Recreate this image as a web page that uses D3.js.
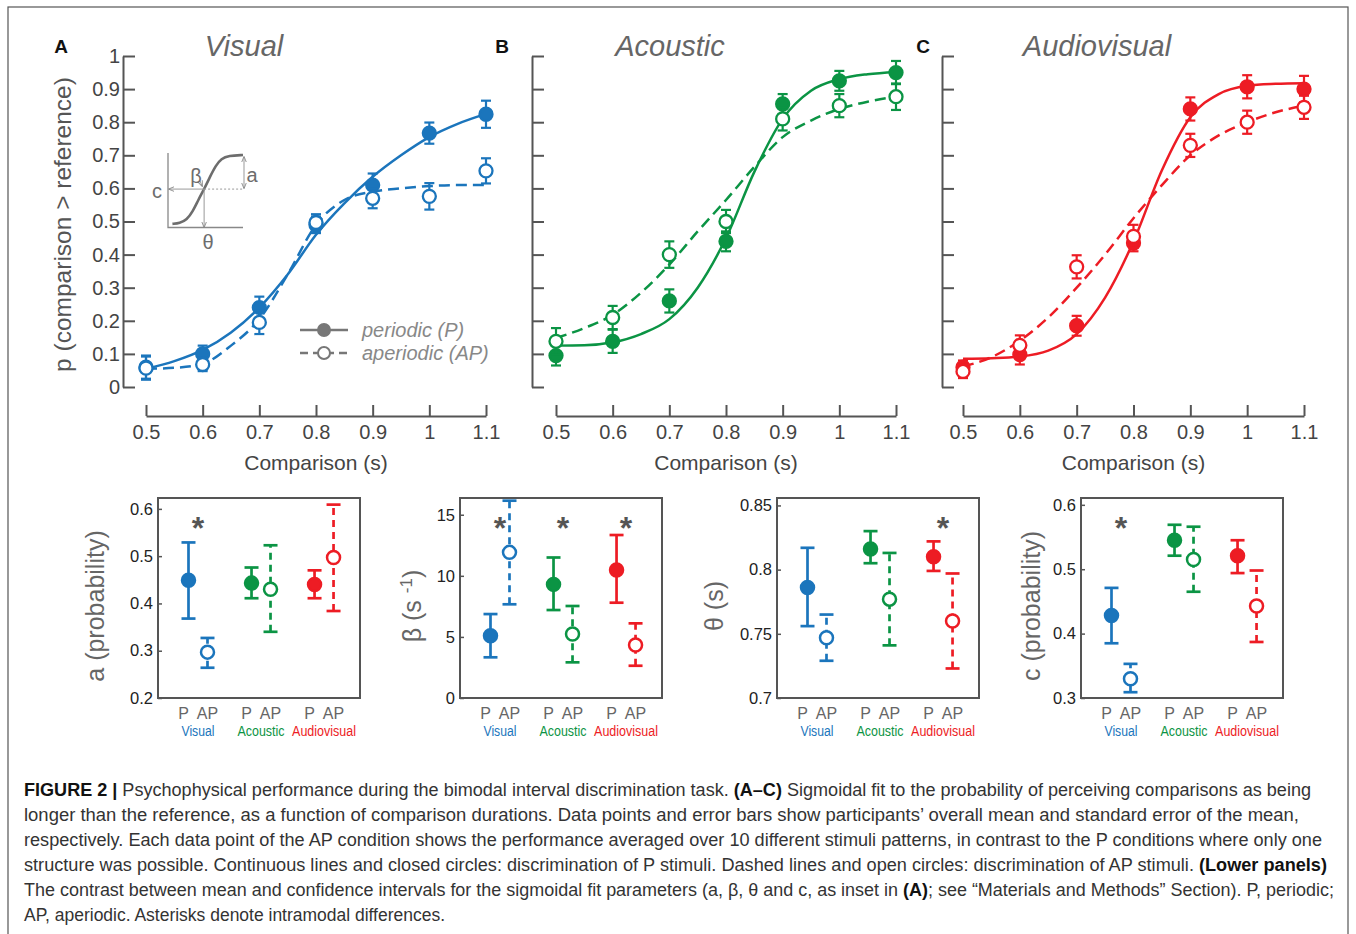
<!DOCTYPE html>
<html>
<head>
<meta charset="utf-8">
<script src="https://cdn.jsdelivr.net/npm/d3@7"></script>
<style>
  body { margin: 0; background: #fff; }
  svg { display: block; }
  text { font-family: "Liberation Sans", Arial, sans-serif; }
</style>
</head>
<body>
<div id="chart"></div>
<script>
// ---------- data: upper panels (psychometric curves) ----------
const comparisonTicks = [0.5, 0.6, 0.7, 0.8, 0.9, 1, 1.1];
const probTicks = [0, 0.1, 0.2, 0.3, 0.4, 0.5, 0.6, 0.7, 0.8, 0.9, 1];
const fitGrid = [0.5, 0.55, 0.6, 0.65, 0.7, 0.75, 0.8, 0.85, 0.9, 0.95, 1, 1.05, 1.1];

const visualP     = [0.06, 0.10, 0.24, 0.49, 0.61, 0.767, 0.824];
const visualPErr  = [0.035, 0.025, 0.033, 0.025, 0.035, 0.032, 0.041];
const visualAP    = [0.057, 0.068, 0.195, 0.497, 0.57, 0.576, 0.653];
const visualAPErr = [0.035, 0.02, 0.035, 0.025, 0.03, 0.04, 0.038];
const visualPFit  = [0.055, 0.078, 0.112, 0.165, 0.24, 0.34, 0.46, 0.555, 0.635, 0.70, 0.755, 0.795, 0.825];
const visualAPFit = [0.055, 0.058, 0.07, 0.125, 0.205, 0.34, 0.49, 0.565, 0.59, 0.60, 0.607, 0.61, 0.61];

const acousticP     = [0.095, 0.138, 0.26, 0.44, 0.855, 0.925, 0.95];
const acousticPErr  = [0.03, 0.035, 0.035, 0.03, 0.03, 0.03, 0.035];
const acousticAP    = [0.138, 0.21, 0.40, 0.50, 0.81, 0.85, 0.877];
const acousticAPErr = [0.04, 0.035, 0.04, 0.035, 0.035, 0.035, 0.04];
const acousticPFit  = [0.125, 0.126, 0.135, 0.16, 0.205, 0.30, 0.45, 0.65, 0.81, 0.895, 0.93, 0.945, 0.952];
const acousticAPFit = [0.148, 0.178, 0.218, 0.285, 0.37, 0.47, 0.565, 0.665, 0.755, 0.805, 0.84, 0.862, 0.877];

const audiovisualP     = [0.06, 0.098, 0.185, 0.435, 0.84, 0.907, 0.90];
const audiovisualPErr  = [0.02, 0.03, 0.03, 0.025, 0.035, 0.035, 0.04];
const audiovisualAP    = [0.047, 0.126, 0.363, 0.455, 0.73, 0.80, 0.845];
const audiovisualAPErr = [0.02, 0.03, 0.035, 0.035, 0.035, 0.035, 0.035];
const audiovisualPFit  = [0.085, 0.087, 0.092, 0.11, 0.16, 0.27, 0.44, 0.655, 0.815, 0.885, 0.91, 0.916, 0.918];
const audiovisualAPFit = [0.062, 0.09, 0.14, 0.21, 0.30, 0.40, 0.51, 0.61, 0.70, 0.76, 0.80, 0.83, 0.85];

// ---------- data: lower panels (fit parameters, order Visual, Acoustic, Audiovisual) ----------
const modalities = ["Visual", "Acoustic", "Audiovisual"];

const aPMean  = [0.449, 0.443, 0.440];
const aPLow   = [0.368, 0.411, 0.411];
const aPHigh  = [0.529, 0.476, 0.470];
const aAPMean = [0.297, 0.430, 0.497];
const aAPLow  = [0.264, 0.340, 0.384];
const aAPHigh = [0.327, 0.523, 0.609];
const aStars  = [true, false, false];
const aTicks  = [0.2, 0.3, 0.4, 0.5, 0.6];

const betaPMean  = [5.1, 9.3, 10.47];
const betaPLow   = [3.33, 7.2, 7.8];
const betaPHigh  = [6.87, 11.5, 13.34];
const betaAPMean = [11.92, 5.24, 4.34];
const betaAPLow  = [7.67, 2.92, 2.64];
const betaAPHigh = [16.15, 7.53, 6.11];
const betaStars  = [true, true, true];
const betaTicks  = [0, 5, 10, 15];

const thetaPMean  = [0.786, 0.816, 0.810];
const thetaPLow   = [0.756, 0.805, 0.799];
const thetaPHigh  = [0.817, 0.830, 0.822];
const thetaAPMean = [0.747, 0.777, 0.760];
const thetaAPLow  = [0.729, 0.741, 0.723];
const thetaAPHigh = [0.765, 0.813, 0.797];
const thetaStars  = [false, false, true];
const thetaTicks  = [0.7, 0.75, 0.8, 0.85];

const cPMean  = [0.428, 0.545, 0.521];
const cPLow   = [0.385, 0.521, 0.494];
const cPHigh  = [0.471, 0.569, 0.545];
const cAPMean = [0.330, 0.515, 0.443];
const cAPLow  = [0.309, 0.465, 0.387];
const cAPHigh = [0.353, 0.566, 0.498];
const cStars  = [true, false, false];
const cTicks  = [0.3, 0.4, 0.5, 0.6];

const modalityColors = ["#1b75bc", "#0b9444", "#ed1c24"];

// ---------- caption ----------
const captionLines = [
  [["FIGURE 2 | ", true], ["Psychophysical performance during the bimodal interval discrimination task. ", false], ["(A–C)", true], [" Sigmoidal fit to the probability of perceiving comparisons as being", false]],
  [["longer than the reference, as a function of comparison durations. Data points and error bars show participants’ overall mean and standard error of the mean,", false]],
  [["respectively. Each data point of the AP condition shows the performance averaged over 10 different stimuli patterns, in contrast to the P conditions where only one", false]],
  [["structure was possible. Continuous lines and closed circles: discrimination of P stimuli. Dashed lines and open circles: discrimination of AP stimuli. ", false], ["(Lower panels)", true]],
  [["The contrast between mean and confidence intervals for the sigmoidal fit parameters (a, β, θ and c, as inset in ", false], ["(A)", true], ["; see “Materials and Methods” Section). P, periodic;", false]],
  [["AP, aperiodic. Asterisks denote intramodal differences.", false]]
];
const captionWidths = [1287, 1275, 1298, 1303, 1310, 421];

// ---------- drawing ----------
const width = 1356, height = 934;
const axisGray = "#555";
const textGray = "#444";

const svg = d3.select("#chart").append("svg")
  .attr("width", width)
  .attr("height", height);

svg.append("rect")
  .attr("x", 8).attr("y", 7)
  .attr("width", 1340).attr("height", 960)
  .attr("fill", "none").attr("stroke", "#555").attr("stroke-width", 1.2);

const topPanels = [
  { letter: "A", letterX: 61, title: "Visual", titleX: 244, axisX: 123, x0: 146, x1: 486, labels: true, color: modalityColors[0],
    p: visualP, pErr: visualPErr, ap: visualAP, apErr: visualAPErr, pFit: visualPFit, apFit: visualAPFit },
  { letter: "B", letterX: 502, title: "Acoustic", titleX: 670, axisX: 532, x0: 556, x1: 896, labels: false, color: modalityColors[1],
    p: acousticP, pErr: acousticPErr, ap: acousticAP, apErr: acousticAPErr, pFit: acousticPFit, apFit: acousticAPFit },
  { letter: "C", letterX: 923, title: "Audiovisual", titleX: 1097, axisX: 942, x0: 963, x1: 1304, labels: false, color: modalityColors[2],
    p: audiovisualP, pErr: audiovisualPErr, ap: audiovisualAP, apErr: audiovisualAPErr, pFit: audiovisualPFit, apFit: audiovisualAPFit }
];

const yTop = d3.scaleLinear().domain([0, 1]).range([387, 56]);

topPanels.forEach(panel => {
  const x = d3.scaleLinear().domain([0.5, 1.1]).range([panel.x0, panel.x1]);
  const g = svg.append("g");

  // y axis
  const yAxis = d3.axisLeft(yTop)
    .tickValues(probTicks)
    .tickSizeInner(-12)
    .tickSizeOuter(0)
    .tickPadding(3)
    .tickFormat(panel.labels ? d3.format("~g") : () => "");
  const ya = g.append("g").attr("transform", `translate(${panel.axisX},0)`).call(yAxis);
  ya.select(".domain").attr("stroke", axisGray).attr("stroke-width", 2);
  ya.selectAll(".tick line").attr("stroke", axisGray).attr("stroke-width", 2);
  ya.selectAll(".tick text").attr("fill", textGray).attr("font-size", 20)
    .style("font-family", "Liberation Sans, Arial, sans-serif");

  // x axis
  const xAxis = d3.axisBottom(x)
    .tickValues(comparisonTicks)
    .tickSizeInner(-11)
    .tickSizeOuter(0)
    .tickPadding(9)
    .tickFormat(d3.format("~g"));
  const xa = g.append("g").attr("transform", "translate(0,416)").call(xAxis);
  xa.select(".domain").attr("stroke", axisGray).attr("stroke-width", 2);
  xa.selectAll(".tick line").attr("stroke", axisGray).attr("stroke-width", 2);
  xa.selectAll(".tick text").attr("fill", textGray).attr("font-size", 20)
    .style("font-family", "Liberation Sans, Arial, sans-serif");

  g.append("text")
    .attr("x", (panel.x0 + panel.x1) / 2).attr("y", 470)
    .attr("text-anchor", "middle").attr("font-size", 21).attr("fill", textGray)
    .text("Comparison (s)");

  g.append("text")
    .attr("x", panel.titleX).attr("y", 56)
    .attr("text-anchor", "middle").attr("font-size", 29).attr("font-style", "italic").attr("fill", "#666")
    .text(panel.title);

  g.append("text")
    .attr("x", panel.letterX).attr("y", 53)
    .attr("text-anchor", "middle").attr("font-size", 19).attr("font-weight", "bold").attr("fill", "#111")
    .text(panel.letter);

  // fitted curves
  const line = d3.line()
    .x((d, i) => x(fitGrid[i]))
    .y(d => yTop(d))
    .curve(d3.curveMonotoneX);
  g.append("path").datum(panel.apFit)
    .attr("d", line).attr("fill", "none").attr("stroke", panel.color)
    .attr("stroke-width", 2.5).attr("stroke-dasharray", "11,6");
  g.append("path").datum(panel.pFit)
    .attr("d", line).attr("fill", "none").attr("stroke", panel.color)
    .attr("stroke-width", 2.5);

  // error bars + markers (AP drawn last, on top)
  [["p", panel.p, panel.pErr], ["ap", panel.ap, panel.apErr]].forEach(([kind, vals, errs]) => {
    const eg = g.append("g");
    vals.forEach((v, i) => {
      const cx = x(comparisonTicks[i]);
      const lo = yTop(v - errs[i]), hi = yTop(v + errs[i]);
      eg.append("line").attr("x1", cx).attr("x2", cx).attr("y1", lo).attr("y2", hi)
        .attr("stroke", panel.color).attr("stroke-width", 2.2);
      [lo, hi].forEach(yy => eg.append("line")
        .attr("x1", cx - 5).attr("x2", cx + 5).attr("y1", yy).attr("y2", yy)
        .attr("stroke", panel.color).attr("stroke-width", 2.2));
      eg.append("circle").attr("cx", cx).attr("cy", yTop(v)).attr("r", 6.5)
        .attr("fill", kind === "p" ? panel.color : "#fff")
        .attr("stroke", panel.color).attr("stroke-width", 2.3);
    });
  });

  if (panel.labels) {
    g.append("text")
      .attr("transform", `translate(71,${(yTop(0) + yTop(1)) / 2 + 3}) rotate(-90)`)
      .attr("text-anchor", "middle").attr("font-size", 24.5).attr("fill", "#555")
      .text("p (comparison > reference)");
  }
});

// legend in panel A
const legend = svg.append("g");
[["periodic (P)", 330, true], ["aperiodic (AP)", 353, false]].forEach(([label, ly, filled]) => {
  legend.append("line").attr("x1", 300).attr("x2", 348).attr("y1", ly).attr("y2", ly)
    .attr("stroke", "#777").attr("stroke-width", 2.3)
    .attr("stroke-dasharray", filled ? null : "8,5");
  legend.append("circle").attr("cx", 324).attr("cy", ly).attr("r", 6)
    .attr("fill", filled ? "#777" : "#fff").attr("stroke", "#777").attr("stroke-width", 2);
  legend.append("text").attr("x", 362).attr("y", ly + 7)
    .attr("font-size", 20).attr("font-style", "italic").attr("fill", "#888").text(label);
});

// inset sketch of sigmoid parameters
const insetShape = [[0.02, 0.03], [0.12, 0.04], [0.22, 0.09], [0.3, 0.2], [0.38, 0.37], [0.46, 0.52],
                    [0.54, 0.69], [0.62, 0.85], [0.7, 0.95], [0.8, 0.99], [1, 1]];
const inset = svg.append("g");
const ix = d3.scaleLinear().domain([0, 1]).range([171, 243]);
const iy = d3.scaleLinear().domain([0, 1]).range([226, 155]);
const insetGray = "#6d6d6d";
inset.append("path")
  .attr("d", `M168,153V227.5H243`).attr("fill", "none").attr("stroke", "#888").attr("stroke-width", 1.3);
inset.append("path").datum(insetShape)
  .attr("d", d3.line().x(d => ix(d[0])).y(d => iy(d[1])).curve(d3.curveBasis))
  .attr("fill", "none").attr("stroke", insetGray).attr("stroke-width", 2.6);
const defs = svg.append("defs");
defs.append("marker").attr("id", "arr").attr("viewBox", "0 0 10 10")
  .attr("refX", 9).attr("refY", 5).attr("markerWidth", 6).attr("markerHeight", 6)
  .attr("orient", "auto-start-reverse")
  .append("path").attr("d", "M0,1L10,5L0,9").attr("fill", "none").attr("stroke", "#888").attr("stroke-width", 1.5);
const midY = iy(0.52), midX = ix(0.46);
inset.append("line").attr("x1", midX).attr("x2", 169).attr("y1", midY).attr("y2", midY)
  .attr("stroke", "#999").attr("stroke-width", 1).attr("marker-end", "url(#arr)");
inset.append("line").attr("x1", midX).attr("x2", 243).attr("y1", midY).attr("y2", midY)
  .attr("stroke", "#999").attr("stroke-width", 1).attr("stroke-dasharray", "2,2");
inset.append("line").attr("x1", midX).attr("x2", midX).attr("y1", midY).attr("y2", 227)
  .attr("stroke", "#999").attr("stroke-width", 1).attr("marker-end", "url(#arr)");
inset.append("line").attr("x1", 244).attr("x2", 244).attr("y1", 157).attr("y2", midY - 1)
  .attr("stroke", "#999").attr("stroke-width", 1)
  .attr("marker-start", "url(#arr)").attr("marker-end", "url(#arr)");
inset.append("line").attr("x1", 200).attr("x2", midX - 2).attr("y1", 181).attr("y2", midY - 3)
  .attr("stroke", "#999").attr("stroke-width", 1).attr("marker-end", "url(#arr)");
[["c", 157, 198], ["β", 196, 183], ["a", 252, 182], ["θ", 208, 249]].forEach(([t, tx, ty]) => {
  inset.append("text").attr("x", tx).attr("y", ty).attr("text-anchor", "middle")
    .attr("font-size", 20).attr("fill", insetGray).text(t);
});

// ---------- lower panels ----------
const lowerPanels = [
  { label: "a (probability)", x0: 158, labelX: 104, domain: [0.2, 0.623], ticks: aTicks, fmt: d3.format(".1f"),
    pm: aPMean, pl: aPLow, ph: aPHigh, am: aAPMean, al: aAPLow, ah: aAPHigh, stars: aStars },
  { label: "beta", x0: 460, labelX: 421, domain: [0, 16.37], ticks: betaTicks, fmt: d3.format("d"),
    pm: betaPMean, pl: betaPLow, ph: betaPHigh, am: betaAPMean, al: betaAPLow, ah: betaAPHigh, stars: betaStars },
  { label: "θ (s)", x0: 777, labelX: 723, domain: [0.7, 0.8558], ticks: thetaTicks, fmt: d3.format("~g"),
    pm: thetaPMean, pl: thetaPLow, ph: thetaPHigh, am: thetaAPMean, al: thetaAPLow, ah: thetaAPHigh, stars: thetaStars },
  { label: "c (probability)", x0: 1081, labelX: 1040, domain: [0.3, 0.6106], ticks: cTicks, fmt: d3.format(".1f"),
    pm: cPMean, pl: cPLow, ph: cPHigh, am: cAPMean, al: cAPLow, ah: cAPHigh, stars: cStars }
];

const boxTop = 498, boxBottom = 698, boxW = 202;
const categoryWidths = [33, 47, 64];

lowerPanels.forEach(panel => {
  const g = svg.append("g");
  const y = d3.scaleLinear().domain(panel.domain).range([boxBottom, boxTop]);
  const xg = d3.scalePoint().domain(modalities)
    .range([panel.x0 + 0.198 * boxW, panel.x0 + 0.822 * boxW]);
  const off = 9.5;

  const ya = g.append("g").attr("transform", `translate(${panel.x0},0)`)
    .call(d3.axisLeft(y).tickValues(panel.ticks).tickSizeInner(-4).tickSizeOuter(0)
      .tickPadding(5).tickFormat(panel.fmt));
  ya.select(".domain").remove();
  ya.selectAll(".tick line").attr("stroke", axisGray).attr("stroke-width", 1.5);
  ya.selectAll(".tick text").attr("fill", "#222").attr("font-size", 16.5)
    .style("font-family", "Liberation Sans, Arial, sans-serif");

  g.append("rect").attr("x", panel.x0).attr("y", boxTop)
    .attr("width", boxW).attr("height", boxBottom - boxTop)
    .attr("fill", "none").attr("stroke", axisGray).attr("stroke-width", 2);

  modalities.forEach((m, i) => {
    const color = modalityColors[i];
    const cx = xg(m);
    [[cx - off, panel.pm[i], panel.pl[i], panel.ph[i], true],
     [cx + off, panel.am[i], panel.al[i], panel.ah[i], false]].forEach(([px, mv, lo, hi, filled]) => {
      g.append("line").attr("x1", px).attr("x2", px).attr("y1", y(lo)).attr("y2", y(hi))
        .attr("stroke", color).attr("stroke-width", 2.7)
        .attr("stroke-dasharray", filled ? null : "7,5");
      [lo, hi].forEach(v => g.append("line")
        .attr("x1", px - 7).attr("x2", px + 7).attr("y1", y(v)).attr("y2", y(v))
        .attr("stroke", color).attr("stroke-width", 2.7));
      g.append("circle").attr("cx", px).attr("cy", y(mv)).attr("r", 6.5)
        .attr("fill", filled ? color : "#fff").attr("stroke", color).attr("stroke-width", 2.5);
    });

    if (panel.stars[i]) {
      g.append("text").attr("x", cx).attr("y", 539).attr("text-anchor", "middle")
        .attr("font-size", 32).attr("font-weight", "bold").attr("fill", "#555").text("*");
    }
    g.append("text").attr("x", cx - off - 5).attr("y", 719).attr("text-anchor", "middle")
      .attr("font-size", 16).attr("fill", "#666").text("P");
    g.append("text").attr("x", cx + off).attr("y", 719).attr("text-anchor", "middle")
      .attr("font-size", 16).attr("fill", "#666").text("AP");
    g.append("text").attr("x", cx - categoryWidths[i] / 2).attr("y", 736)
      .attr("font-size", 14).attr("fill", color)
      .attr("textLength", categoryWidths[i]).attr("lengthAdjust", "spacingAndGlyphs")
      .text(m);
  });

  const lab = g.append("text")
    .attr("transform", `translate(${panel.labelX},${(boxTop + boxBottom) / 2 + 8}) rotate(-90)`)
    .attr("text-anchor", "middle").attr("font-size", 25).attr("fill", "#666");
  if (panel.label === "beta") {
    lab.append("tspan").text("β (s ");
    lab.append("tspan").attr("font-size", 17).attr("dy", -9).text("-1");
    lab.append("tspan").attr("dy", 9).text(")");
  } else {
    lab.text(panel.label);
  }
});

// ---------- caption ----------
const cap = svg.append("g");
captionLines.forEach((segs, i) => {
  const t = cap.append("text")
    .attr("x", 24).attr("y", 796 + i * 25)
    .attr("font-size", 17.5).attr("fill", "#333")
    .attr("textLength", captionWidths[i]).attr("lengthAdjust", "spacingAndGlyphs");
  segs.forEach(([s, bold]) => {
    t.append("tspan").attr("font-weight", bold ? "bold" : null).attr("fill", bold ? "#111" : null).text(s);
  });
});
</script>
</body>
</html>
